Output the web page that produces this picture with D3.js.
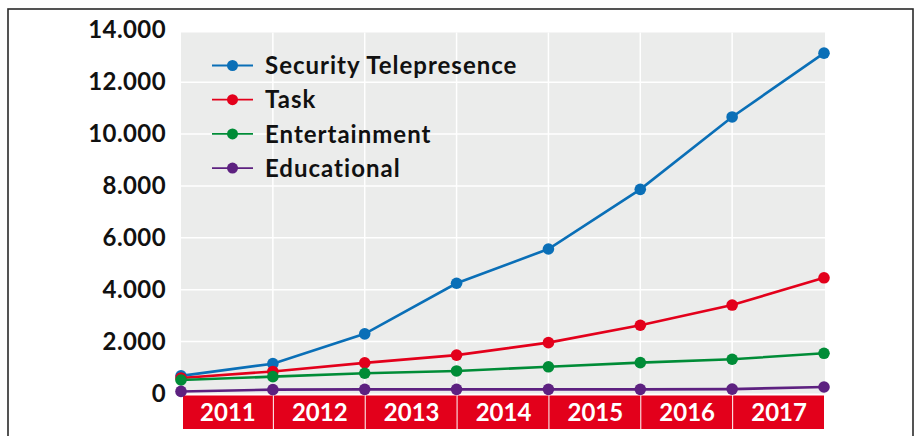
<!DOCTYPE html>
<html>
<head>
<meta charset="utf-8">
<script src="https://cdn.jsdelivr.net/npm/d3@7"></script>
<style>
  html, body { margin: 0; padding: 0; background: #fff; }
  svg { display: block; font-family: Lato, "Open Sans", sans-serif; }
</style>
</head>
<body>
<div id="chart"></div>
<script>
// year bands along the bottom, points sit on the band edges
const years = ["2011", "2012", "2013", "2014", "2015", "2016", "2017"];
const yTicks = [0, 2000, 4000, 6000, 8000, 10000, 12000, 14000];

const seriesNames = ["Security Telepresence", "Task", "Entertainment", "Educational"];
const seriesColors = ["#0a6fb7", "#e3001b", "#008c37", "#5d2180"];

const securityValues = [680, 1150, 2300, 4250, 5570, 7870, 10660, 13120];
const taskValues = [600, 850, 1180, 1480, 1960, 2630, 3410, 4460];
const entertainmentValues = [520, 650, 780, 870, 1030, 1190, 1320, 1550];
const educationalValues = [80, 150, 160, 160, 160, 160, 170, 250];

const seriesValues = [securityValues, taskValues, entertainmentValues, educationalValues];

const W = 919, H = 436;
const plot = { left: 181, right: 824, top: 32.5, zero: 393.5 };

const svg = d3.select("#chart").append("svg")
    .attr("width", W)
    .attr("height", H);

// outer frame (bottom edge runs off the picture)
svg.append("rect")
    .attr("x", 8).attr("y", 9)
    .attr("width", 905).attr("height", 440)
    .attr("fill", "none")
    .attr("stroke", "#2a2a2a")
    .attr("stroke-width", 1.6);

const x = d3.scaleLinear().domain([0, years.length]).range([plot.left, plot.right]);
const y = d3.scaleLinear().domain([0, 14000]).range([plot.zero, 30.3]);

// plot background
svg.append("rect")
    .attr("x", plot.left).attr("y", plot.top)
    .attr("width", plot.right - plot.left + 1)
    .attr("height", plot.zero - plot.top)
    .attr("fill", "#ebeceb");

// grid
const grid = svg.append("g").attr("stroke", "#fff").attr("stroke-width", 1.5);
grid.selectAll(".hg")
    .data(yTicks.filter(d => d > 0 && d < 14000))
    .join("line")
    .attr("x1", plot.left).attr("x2", plot.right + 1)
    .attr("y1", d => y(d)).attr("y2", d => y(d));
grid.selectAll(".vg")
    .data(d3.range(1, years.length))
    .join("line")
    .attr("x1", d => x(d)).attr("x2", d => x(d))
    .attr("y1", plot.top).attr("y2", plot.zero);

// y axis labels, dot as thousands separator
const fmt = d3.formatLocale({ decimal: ",", thousands: ".", grouping: [3], currency: ["", ""] }).format(",");
const yAxis = svg.append("g")
    .attr("transform", `translate(${plot.left},0)`)
    .call(d3.axisLeft(y).tickValues(yTicks).tickFormat(fmt).tickSize(0).tickPadding(15));
yAxis.select(".domain").remove();
yAxis.selectAll("text")
    .attr("fill", "#111")
    .style("font-family", "Lato, 'Open Sans', sans-serif")
    .style("font-size", "24px")
    .style("font-weight", "700")
    .style("letter-spacing", "0.4px");

// red year band
const bandTop = 395.5, bandH = 33.5;
const band = svg.append("g");
band.selectAll("rect")
    .data(years)
    .join("rect")
    .attr("x", (d, i) => x(i) + (i === 0 ? 2 : 1))
    .attr("y", bandTop)
    .attr("width", (d, i) => x(i + 1) - x(i) - (i === 0 ? 2 : 1))
    .attr("height", bandH)
    .attr("fill", "#e3001b");
band.selectAll("text")
    .data(years)
    .join("text")
    .attr("x", (d, i) => x(i + 0.5) + 1)
    .attr("y", bandTop + bandH / 2 + 8.5)
    .attr("text-anchor", "middle")
    .attr("fill", "#fff")
    .style("font-size", "24px")
    .style("font-weight", "700")
    .text(d => d);

// lines + markers
const line = d3.line().x((d, i) => x(i)).y(d => y(d));
seriesValues.forEach((vals, s) => {
    const g = svg.append("g");
    g.append("path")
        .datum(vals)
        .attr("d", line)
        .attr("fill", "none")
        .attr("stroke", seriesColors[s])
        .attr("stroke-width", 2.6);
    g.selectAll("circle")
        .data(vals)
        .join("circle")
        .attr("cx", (d, i) => x(i))
        .attr("cy", d => y(d))
        .attr("r", 5.8)
        .attr("fill", seriesColors[s]);
});

// legend
const legend = svg.append("g").attr("transform", "translate(212, 65.5)");
seriesNames.forEach((name, i) => {
    const item = legend.append("g").attr("transform", `translate(0, ${i * 34.2})`);
    item.append("line")
        .attr("x1", 0).attr("x2", 41)
        .attr("stroke", seriesColors[i])
        .attr("stroke-width", 1.8);
    item.append("circle")
        .attr("cx", 20.5).attr("r", 5.5)
        .attr("fill", seriesColors[i]);
    item.append("text")
        .attr("x", 53)
        .attr("y", 8.6)
        .attr("fill", "#111")
        .style("font-size", "24px")
        .style("font-weight", "700")
        .style("letter-spacing", "1px")
        .text(name);
});
</script>
</body>
</html>
